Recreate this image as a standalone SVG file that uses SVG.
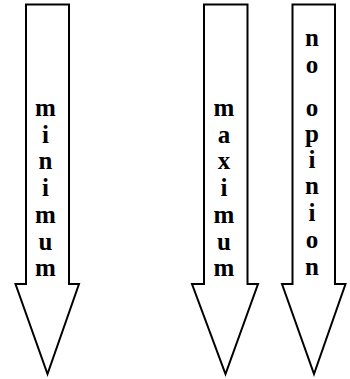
<svg xmlns="http://www.w3.org/2000/svg" width="350" height="379" viewBox="0 0 350 379">
<style>
.arrow{fill:#fff;stroke:#000;stroke-width:2;stroke-linejoin:miter}
.lbl{font-family:"Liberation Serif","Times New Roman",serif;font-weight:bold;font-size:25px;fill:#000;text-anchor:middle}
</style>
<rect width="350" height="379" fill="#fff"/>
<g id="minimum">
<path class="arrow" d="M26,4.5 H69 V284 H79 L47.5,374 L15.5,284 H26 Z"/>
<text class="lbl"><tspan x="45.5" y="116">m</tspan><tspan x="45.5" y="143">i</tspan><tspan x="45.5" y="169">n</tspan><tspan x="45.5" y="196">i</tspan><tspan x="45.5" y="223">m</tspan><tspan x="45.5" y="250">u</tspan><tspan x="45.5" y="276">m</tspan></text>
</g>
<g id="maximum">
<path class="arrow" d="M204,4.5 H247.5 V284 H258 L225.5,374 L192,284 H204 Z"/>
<text class="lbl"><tspan x="224" y="116">m</tspan><tspan x="224" y="143">a</tspan><tspan x="224" y="169">x</tspan><tspan x="224" y="196">i</tspan><tspan x="224" y="223">m</tspan><tspan x="224" y="250">u</tspan><tspan x="224" y="276">m</tspan></text>
</g>
<g id="no-opinion">
<path class="arrow" d="M292.5,4.5 H335 V284 H345.5 L314,374 L282,284 H292.5 Z"/>
<text class="lbl"><tspan x="312" y="46">n</tspan><tspan x="312" y="73">o</tspan><tspan x="312" y="116">o</tspan><tspan x="312" y="142">p</tspan><tspan x="312" y="168">i</tspan><tspan x="312" y="194">n</tspan><tspan x="312" y="221">i</tspan><tspan x="312" y="248">o</tspan><tspan x="312" y="275">n</tspan></text>
</g>
<g id="connectors"/>
</svg>
